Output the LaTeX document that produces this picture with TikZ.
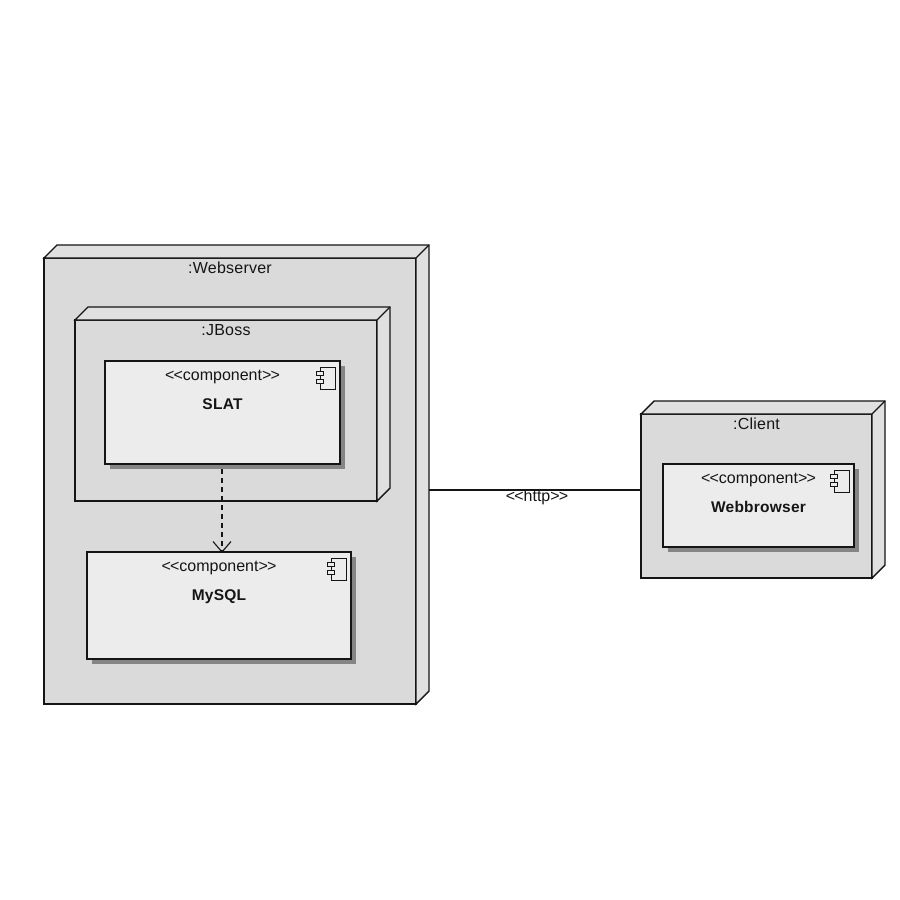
\documentclass[tikz,border=0pt]{standalone}
\usepackage{fontspec}
\setmainfont{Liberation Sans}
\usetikzlibrary{arrows.meta,calc}
\definecolor{bodygray}{HTML}{DADADA}
\definecolor{sidegray}{HTML}{E0E0E0}
\definecolor{compgray}{HTML}{ECECEC}
\definecolor{shadowgray}{HTML}{858585}
\definecolor{inkc}{HTML}{151515}
\newcommand{\ltl}{<\kern-0.8pt<}
\newcommand{\gtg}{>\kern-0.8pt>}
\newcommand{\deploynode}[6]{% name,x,y,w,h,label
  \node[nodefront,minimum width=#4pt,minimum height=#5pt] (#1) at ({#2+#4/2},{#3+#5/2}) {};
  \draw[nodeside] (#1.north west) -- ++(13,-13) -- ++(#4,0) -- ++(0,#5) -- (#1.south east) -- (#1.north east) -- cycle;
  \draw[nodeedge] (#1.north east) -- ++(13,-13);
  \node[titletext] (#1title) at ({#2+#4/2},{#3+15.5}) {#6};
}
\newcommand{\compbox}[6]{% name,x,y,w,h,title
  \fill[shadowgray] ({#2+5},{#3+5}) rectangle ({#2+#4+5},{#3+#5+5});
  \node[compfront,minimum width=#4pt,minimum height=#5pt] (#1) at ({#2+#4/2},{#3+#5/2}) {};
  \node[stereotext] (#1st) at ({#2+#4/2},{#3+19}) {\ltl component\gtg};
  \node[boldtext] (#1name) at ({#2+#4/2},{#3+48.5}) {#6};
  \draw[iconline,fill=compgray] ({#2+#4-20},{#3+6}) rectangle ({#2+#4-5},{#3+28});
  \draw[iconline,fill=compgray] ({#2+#4-24},{#3+10}) rectangle ({#2+#4-17},{#3+14});
  \draw[iconline,fill=compgray] ({#2+#4-24},{#3+18}) rectangle ({#2+#4-17},{#3+22});
}
\tikzset{
  x=1pt,y=-1pt,
  nodefront/.style={draw=inkc,fill=bodygray,line width=1.4pt,inner sep=0pt,outer sep=0pt,rectangle},
  nodeside/.style={draw=inkc,fill=sidegray,line width=1.4pt,line join=miter},
  nodeedge/.style={draw=inkc,line width=1.1pt},
  compfront/.style={draw=inkc,fill=compgray,line width=1.4pt,inner sep=0pt,outer sep=0pt,rectangle},
  iconline/.style={draw=inkc,line width=1pt},
  titletext/.style={text=inkc,inner sep=0pt,anchor=base,font=\fontsize{16}{18}\selectfont\addfontfeatures{LetterSpace=1.5}},
  stereotext/.style={text=inkc,inner sep=0pt,anchor=base,font=\fontsize{16}{18}\selectfont},
  boldtext/.style={text=inkc,inner sep=0pt,anchor=base,font=\fontsize{15.5}{18}\selectfont\bfseries\addfontfeatures{LetterSpace=1.5}},
  linklabel/.style={text=inkc,inner sep=0pt,font=\fontsize{16}{18}\selectfont},
  linkline/.style={draw=inkc,line width=1.3pt},
  deplink/.style={draw=inkc,line width=1.2pt,dash pattern=on 5pt off 4pt,dash phase=5pt},
  deptip/.style={draw=inkc,line width=1.1pt}
}
\begin{document}
\begin{tikzpicture}
\useasboundingbox (0,0) rectangle (900,900);
\fill[white] (0,0) rectangle (900,900);
\deploynode{web}{44}{258}{372}{446}{:Webserver}
\deploynode{jboss}{75}{320}{302}{181}{:JBoss}
\compbox{slat}{105}{361}{235}{103}{SLAT}
\compbox{mysql}{87}{552}{264}{107}{MySQL}
\deploynode{client}{641}{414}{231}{164}{:Client}
\compbox{browser}{663}{464}{191}{83}{Webbrowser}
\coordinate (webport) at (429,490);
\coordinate (clientport) at (client.west |- webport);
\draw[linkline] (webport) -- (clientport);
\node[linklabel,anchor=base] (httplabel) at (537,501.5) {\ltl http\gtg};
\coordinate (slatout) at (222,465);
\coordinate (mysqlin) at (222,552);
\draw[deplink] (slatout) -- (mysqlin);
\draw[deptip] (213,541.5) -- (mysqlin) -- (231,541.5);
\end{tikzpicture}
\end{document}
